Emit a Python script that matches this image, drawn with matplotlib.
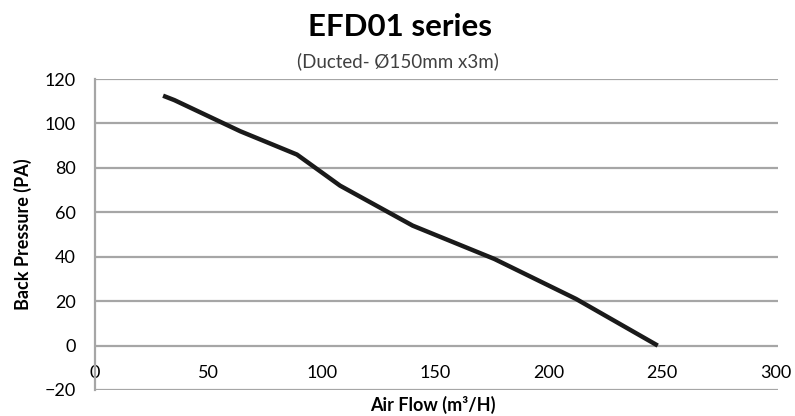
import numpy as np
import matplotlib.pyplot as plt

plt.rcParams['font.family'] = ['Lato', 'DejaVu Sans']

air_flow = [30, 35, 64, 89, 108, 140, 176, 212, 248]
pressure = [112.5, 110.5, 96.5, 86, 72, 54, 39, 21, 0]

x_ticks = [0, 50, 100, 150, 200, 250, 300]
y_ticks = [-20, 0, 20, 40, 60, 80, 100, 120]

fig = plt.figure(figsize=(7.95, 4.16), dpi=100)
ax = fig.add_axes([0.1195, 0.0625, 0.8591, 0.7475])

grid_col = '#a6a6a6'
for yv in y_ticks:
    ax.axhline(yv, color=grid_col, lw=1.6, zorder=1)

ax.plot(air_flow, pressure, color='#1a1a1a', lw=3.2, solid_capstyle='butt', zorder=3)

ax.set_xlim(0, 301)
ax.set_ylim(-20, 120)
ax.set_xticks(x_ticks)
ax.set_yticks(y_ticks)

for s in ['top', 'right']:
    ax.spines[s].set_visible(False)
ax.spines['left'].set_color(grid_col)
ax.spines['left'].set_linewidth(1.6)
ax.spines['bottom'].set_position(('data', 0))
ax.spines['bottom'].set_color('none')

ax.tick_params(axis='x', length=0, pad=14, labelsize=13, colors='#000000')
ax.tick_params(axis='y', length=0, pad=14, labelsize=13, colors='#000000')

fig.text(0.503, 0.935, 'EFD01 series', ha='center', va='center',
         fontsize=22.5, fontweight='bold')
fig.text(0.500, 0.852, '(Ducted- Ø150mm x3m)', ha='center', va='center',
         fontsize=13.5, color='#404040')
fig.text(0.544, 0.026, 'Air Flow (m³/H)', ha='center', va='center',
         fontsize=13, fontweight='bold')
fig.text(0.029, 0.437, 'Back Pressure (PA)', ha='center', va='center',
         rotation=90, fontsize=13, fontweight='bold')

fig.savefig('out.png', dpi=100)
